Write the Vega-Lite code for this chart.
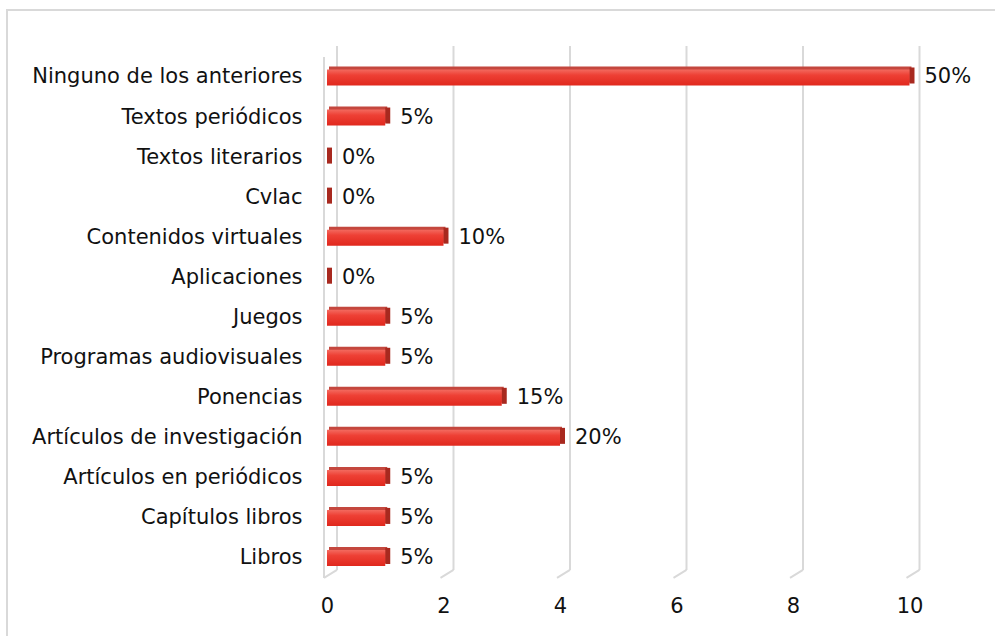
{
  "$schema": "https://vega.github.io/schema/vega-lite/v6.json",
  "width": 992,
  "height": 630,
  "autosize": {"type": "none"},
  "padding": {"left": 7, "top": 10, "right": 0, "bottom": 0},
  "background": "#ffffff",
  "config": {
    "view": {"stroke": "#d9d9d9", "strokeWidth": 2},
    "font": "DejaVu Sans"
  },
  "datasets": {
    "bars": [
      {"cat": "Ninguno de los anteriores", "v": 10, "lbl": "50%"},
      {"cat": "Textos periódicos", "v": 1, "lbl": "5%"},
      {"cat": "Textos literarios", "v": 0, "lbl": "0%"},
      {"cat": "Cvlac", "v": 0, "lbl": "0%"},
      {"cat": "Contenidos virtuales", "v": 2, "lbl": "10%"},
      {"cat": "Aplicaciones", "v": 0, "lbl": "0%"},
      {"cat": "Juegos", "v": 1, "lbl": "5%"},
      {"cat": "Programas audiovisuales", "v": 1, "lbl": "5%"},
      {"cat": "Ponencias", "v": 3, "lbl": "15%"},
      {"cat": "Artículos de investigación", "v": 4, "lbl": "20%"},
      {"cat": "Artículos en periódicos", "v": 1, "lbl": "5%"},
      {"cat": "Capítulos libros", "v": 1, "lbl": "5%"},
      {"cat": "Libros", "v": 1, "lbl": "5%"}
    ],
    "grid": [{"v": 0}, {"v": 2}, {"v": 4}, {"v": 6}, {"v": 8}, {"v": 10}]
  },
  "layer": [
    {
      "data": {"name": "grid"},
      "mark": {"type": "rule", "color": "#d9d9d9", "strokeWidth": 2, "xOffset": 10, "yOffset": -31.5, "y2Offset": 12},
      "encoding": {
        "x": {"field": "v", "type": "quantitative"},
        "y": {"datum": "Ninguno de los anteriores", "type": "nominal"},
        "y2": {"datum": "Libros"}
      }
    },
    {
      "data": {"name": "grid"},
      "transform": [{"filter": "datum.v == 0"}],
      "mark": {"type": "rule", "color": "#d9d9d9", "strokeWidth": 2, "xOffset": -3, "yOffset": -20.5, "y2Offset": 20},
      "encoding": {
        "x": {"field": "v", "type": "quantitative"},
        "y": {"datum": "Ninguno de los anteriores", "type": "nominal"},
        "y2": {"datum": "Libros"}
      }
    },
    {
      "data": {"name": "grid"},
      "mark": {"type": "rule", "color": "#d9d9d9", "strokeWidth": 2, "xOffset": -3, "x2Offset": 10, "yOffset": 20, "y2Offset": 12},
      "encoding": {
        "x": {"field": "v", "type": "quantitative"},
        "x2": {"field": "v"},
        "y": {"datum": "Libros", "type": "nominal"},
        "y2": {"datum": "Libros"}
      }
    },
    {
      "data": {"name": "bars"},
      "mark": {"type": "bar", "fill": "#c4473e", "xOffset": 2, "x2Offset": 2, "yOffset": -3, "y2Offset": -3},
      "encoding": {
        "x": {"field": "v", "type": "quantitative"},
        "y": {"field": "cat", "type": "nominal"}
      }
    },
    {
      "data": {"name": "bars"},
      "mark": {"type": "bar", "fill": "#a8291f", "xOffset": 0, "x2Offset": 5, "yOffset": -2, "y2Offset": -1},
      "encoding": {
        "x": {"field": "v", "type": "quantitative"},
        "x2": {"field": "v"},
        "y": {"field": "cat", "type": "nominal"}
      }
    },
    {
      "data": {"name": "bars"},
      "mark": {
        "type": "bar",
        "fill": {
          "x1": 0, "y1": 0, "x2": 0, "y2": 1,
          "gradient": "linear",
          "stops": [
            {"offset": 0, "color": "#f36a5f"},
            {"offset": 0.35, "color": "#ee4035"},
            {"offset": 1, "color": "#e0281d"}
          ]
        }
      },
      "encoding": {
        "x": {
          "field": "v",
          "type": "quantitative",
          "scale": {"domain": [-5.4936, 11.5365], "nice": false, "zero": false},
          "axis": {
            "title": null,
            "values": [0, 2, 4, 6, 8, 10],
            "format": "d",
            "offset": -45,
            "domain": false,
            "ticks": false,
            "grid": false,
            "labelFontSize": 21,
            "labelColor": "#111111",
            "labelPadding": 0,
            "labelFlush": false,
            "labelFont": "DejaVu Sans"
          }
        },
        "y": {
          "field": "cat",
          "type": "nominal",
          "scale": {
            "domain": ["Ninguno de los anteriores", "Textos periódicos", "Textos literarios", "Cvlac", "Contenidos virtuales", "Aplicaciones", "Juegos", "Programas audiovisuales", "Ponencias", "Artículos de investigación", "Artículos en periódicos", "Capítulos libros", "Libros"],
            "range": [39.47, 576],
            "paddingInner": 0.6,
            "paddingOuter": 0.5
          },
          "axis": {
            "title": null,
            "offset": -296,
            "domain": false,
            "ticks": false,
            "grid": false,
            "labelFontSize": 21,
            "labelColor": "#111111",
            "labelPadding": 1,
            "labelLimit": 400,
            "labelFont": "DejaVu Sans"
          }
        }
      }
    },
    {
      "data": {"name": "bars"},
      "mark": {"type": "text", "align": "left", "baseline": "middle", "dx": 15, "fontSize": 21, "color": "#111111", "font": "DejaVu Sans"},
      "encoding": {
        "x": {"field": "v", "type": "quantitative"},
        "y": {"field": "cat", "type": "nominal"},
        "text": {"field": "lbl"}
      }
    }
  ]
}
